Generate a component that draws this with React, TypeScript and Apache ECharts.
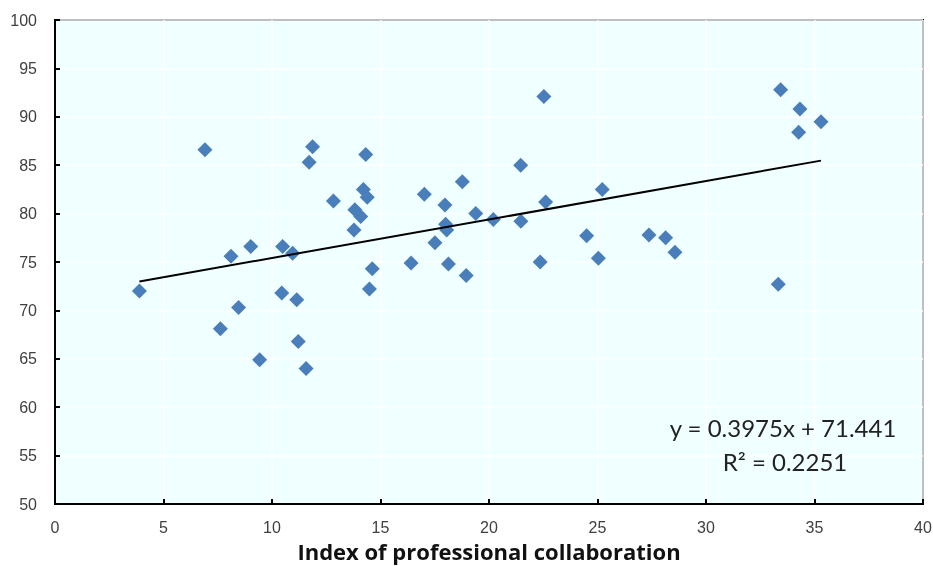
import React, { useEffect, useRef } from "react";
import * as echarts from "echarts";

const xValues = [
  3.89, 6.91, 7.62, 8.11, 8.46, 9.02, 9.43, 10.45, 10.49, 10.95, 11.14, 11.21, 11.57,
  11.71, 11.87, 12.83, 13.78, 13.82, 14.09, 14.21, 14.32, 14.39, 14.49, 14.62, 16.41,
  17.02, 17.51, 17.97, 18.0, 18.05, 18.13, 18.77, 18.95, 19.39, 20.2, 21.46, 21.47,
  22.36, 22.53, 22.61, 24.5, 25.04, 25.22, 27.37, 28.14, 28.57, 33.33, 33.44, 34.27,
  34.33, 35.3,
];
const yValues = [
  72.0, 86.6, 68.1, 75.6, 70.3, 76.6, 64.9, 71.8, 76.6, 75.9, 71.1, 66.8, 64.0,
  85.3, 86.9, 81.3, 78.3, 80.4, 79.7, 82.5, 86.1, 81.7, 72.2, 74.3, 74.9,
  82.0, 77.0, 80.9, 78.9, 78.3, 74.8, 83.3, 73.6, 80.0, 79.4, 85.0, 79.2,
  75.0, 92.1, 81.2, 77.7, 75.4, 82.5, 77.8, 77.5, 76.0, 72.7, 92.8, 88.4,
  90.8, 89.5,
];
const slope = 0.3975;
const intercept = 71.441;
const rSquared = "0.2251";
const xTitle = "Index of professional collaboration";

export default function App() {
  const ref = useRef<HTMLDivElement>(null);
  useEffect(() => {
    if (!ref.current) return;
    const chart = echarts.init(ref.current, undefined, { renderer: "svg" });
    const pts = xValues.map((x, i) => [x, yValues[i]]);
    const xMin = Math.min(...xValues);
    const xMax = Math.max(...xValues);
    const trend = [
      [xMin, slope * xMin + intercept],
      [xMax, slope * xMax + intercept],
    ];
    const labelStyle = {
      color: "#404040",
      fontFamily: "Liberation Sans",
      fontSize: 16,
    };
    chart.setOption({
      animation: false,
      grid: {
        left: 55,
        top: 20,
        right: 10,
        bottom: 62,
        containLabel: false,
        outerBoundsMode: "none",
        show: true,
        backgroundColor: "#F0FFFF",
        borderColor: "#000",
        borderWidth: 2,
      },
      xAxis: {
        type: "value",
        min: 0,
        max: 40,
        interval: 5,
        name: xTitle,
        nameLocation: "middle",
        nameGap: 36,
        nameTextStyle: {
          color: "#111",
          fontFamily: "Open Sans",
          fontWeight: "bold",
          fontSize: 22,
        },
        axisLine: { show: true, lineStyle: { color: "#000", width: 2 } },
        axisTick: { show: true, inside: true, length: 5, lineStyle: { color: "#000", width: 2 } },
        axisLabel: { ...labelStyle, margin: 15 },
        splitLine: { show: true, lineStyle: { color: "#fff", width: 1.5 } },
      },
      yAxis: {
        type: "value",
        min: 50,
        max: 100,
        interval: 5,
        axisLine: { show: true, lineStyle: { color: "#000", width: 2 } },
        axisTick: { show: true, inside: true, length: 5, lineStyle: { color: "#000", width: 2 } },
        axisLabel: { ...labelStyle, margin: 18 },
        splitLine: { show: true, lineStyle: { color: "#fff", width: 1.5 } },
      },
      series: [
        {
          type: "scatter",
          data: pts,
          symbol: "diamond",
          symbolSize: [15, 15],
          itemStyle: { color: "#4A7EBB", opacity: 1 },
          z: 3,
        },
        {
          type: "line",
          data: trend,
          symbol: "none",
          lineStyle: { color: "#000", width: 2 },
          z: 4,
        },
      ],
      graphic: [
        {
          type: "text",
          x: 783,
          y: 427,
          z: 100,
          style: {
            text: `y = ${slope}x + ${intercept}`,
            fill: "#222",
            font: "24px Lato",
            align: "center",
            verticalAlign: "middle",
          },
        },
        {
          type: "text",
          x: 785,
          y: 461,
          z: 100,
          style: {
            text: `R² = ${rSquared}`,
            fill: "#222",
            font: "24px Lato",
            align: "center",
            verticalAlign: "middle",
          },
        },
      ],
    });
    return () => chart.dispose();
  }, []);
  return (
    <div
      ref={ref}
      style={{ position: "fixed", left: 0, top: 0, width: 933, height: 566 }}
    />
  );
}
